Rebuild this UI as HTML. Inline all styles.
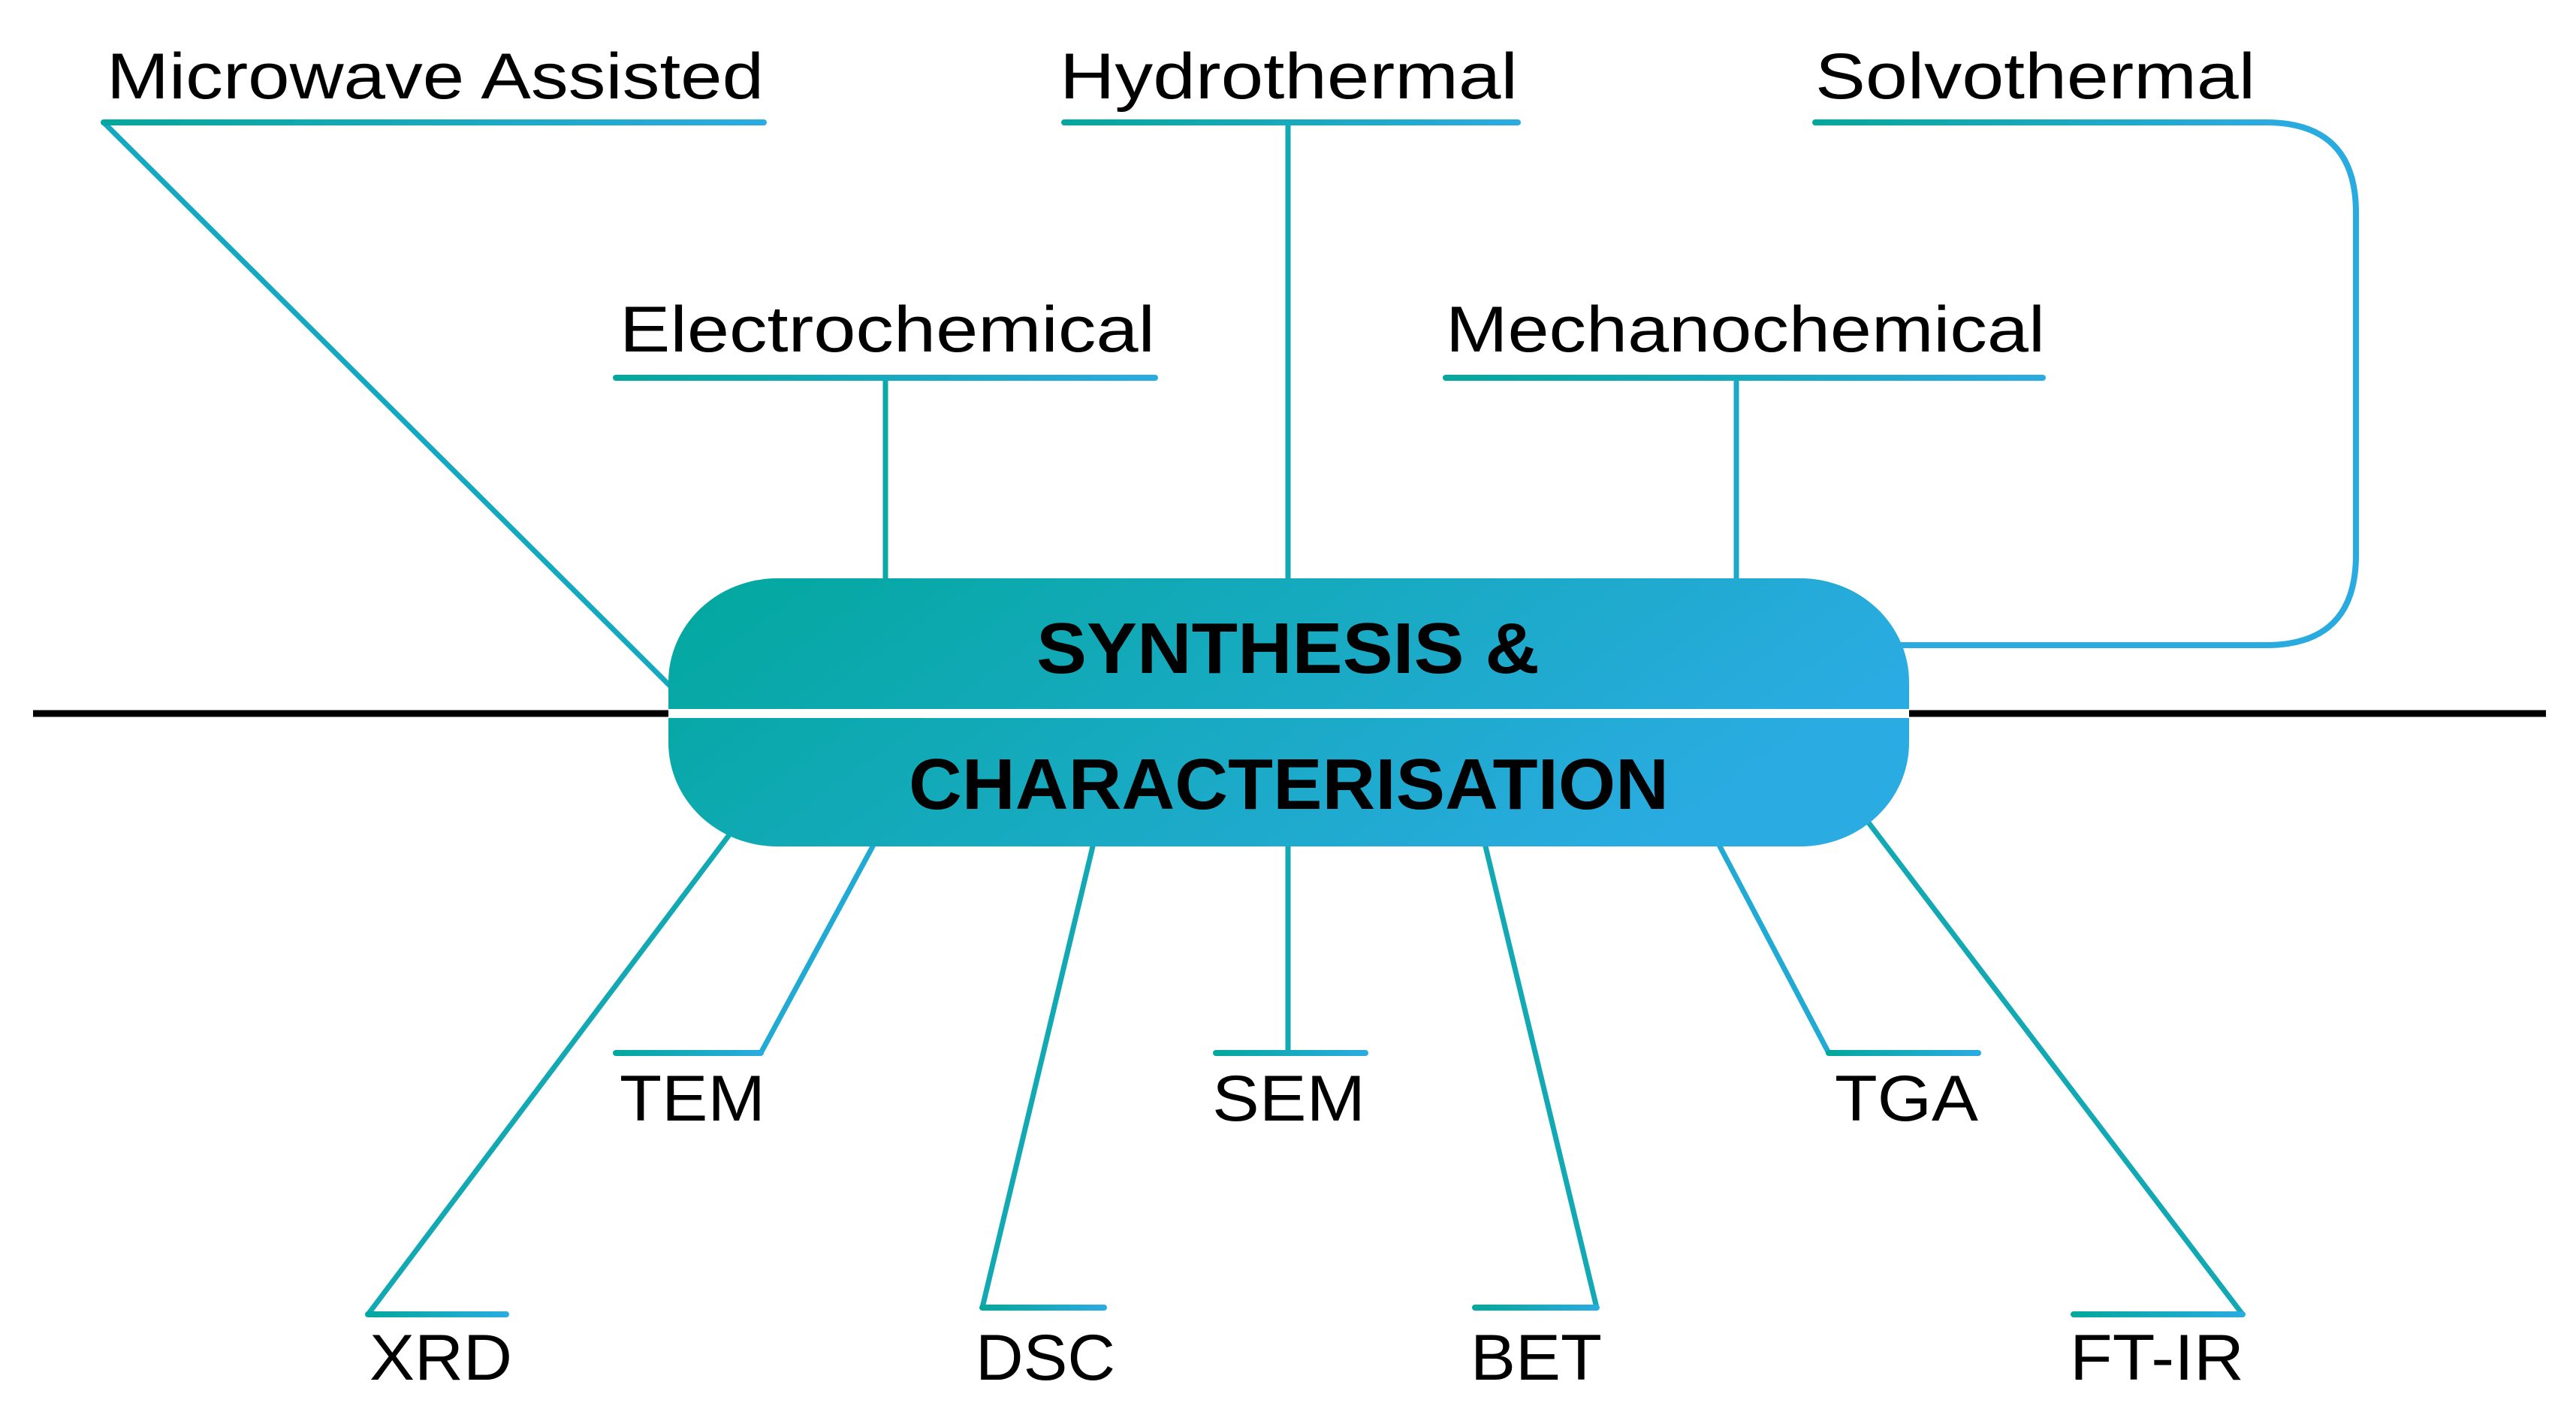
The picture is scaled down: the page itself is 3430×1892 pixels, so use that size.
<!DOCTYPE html>
<html><head><meta charset="utf-8"><style>
html,body{margin:0;padding:0;background:#fff;}
svg{display:block;}
text{font-family:"Liberation Sans",sans-serif;fill:#000;}
</style></head><body>
<svg width="3430" height="1892" viewBox="0 0 3430 1892" xmlns="http://www.w3.org/2000/svg">
<defs>
<linearGradient id="pg" x1="0" y1="0" x2="1" y2="0.3">
<stop offset="0" stop-color="#02A89D"/><stop offset="1" stop-color="#2AABE1"/></linearGradient>
<linearGradient id="ug" x1="0" y1="0" x2="1" y2="0">
<stop offset="0" stop-color="#02A89D"/><stop offset="1" stop-color="#2AABE1"/></linearGradient>
</defs>
<line x1="44" y1="950" x2="3390" y2="950" stroke="#000" stroke-width="9"/>

<g fill="none" stroke-width="7" stroke-linecap="round">
<line x1="138" y1="163" x2="895" y2="916" stroke="#14A9C0"/>
<line x1="1715" y1="163" x2="1715" y2="775" stroke="#12A9B5"/>
<line x1="1179" y1="503" x2="1179" y2="775" stroke="#0BA9A8"/>
<line x1="2312" y1="503" x2="2312" y2="775" stroke="#1AAAC8"/>
<path d="M3017 163 Q3137 163 3137 283 L3137 739 Q3137 859 3017 859 L2527 859" stroke="#29ABE0" stroke-width="8"/>
<path d="M2527 859 L2700 859" stroke="url(#ug)" stroke-width="8"/>
</g>
<g stroke="url(#ug)" stroke-width="8" stroke-linecap="round">
<line x1="138" y1="163" x2="1017" y2="163.01"/>
<line x1="1417" y1="163" x2="2021" y2="163.01"/>
<line x1="2417" y1="163" x2="3020" y2="163.01"/>
<line x1="820" y1="503" x2="1538" y2="503.01"/>
<line x1="1925" y1="503" x2="2720" y2="503.01"/>
</g>

<g fill="none" stroke-width="7" stroke-linecap="round">
<line x1="976" y1="1105" x2="490" y2="1750" stroke="#12A9B5"/>
<line x1="1162" y1="1127" x2="1013" y2="1402" stroke="#20AAD4"/>
<line x1="1455" y1="1127" x2="1308" y2="1741" stroke="#12A9B5"/>
<line x1="1715" y1="1127" x2="1715" y2="1402" stroke="#12A9B5"/>
<line x1="1978" y1="1127" x2="2126" y2="1741" stroke="#12A9B5"/>
<line x1="2290" y1="1127" x2="2435" y2="1402" stroke="#20AAD4"/>
<line x1="2487" y1="1094" x2="2986" y2="1750" stroke="#12A9B5"/>
</g>
<g stroke="url(#ug)" stroke-width="8" stroke-linecap="round">
<line x1="490" y1="1750" x2="674" y2="1750.01"/>
<line x1="820" y1="1402" x2="1013" y2="1402.01"/>
<line x1="1308" y1="1741" x2="1470" y2="1741.01"/>
<line x1="1619" y1="1402" x2="1818" y2="1402.01"/>
<line x1="1964" y1="1741" x2="2126" y2="1741.01"/>
<line x1="2435" y1="1402" x2="2634" y2="1402.01"/>
<line x1="2761" y1="1750" x2="2986" y2="1750.01"/>
</g>

<rect x="890" y="770" width="1652" height="357" rx="145" ry="138" fill="url(#pg)"/>
<rect x="890" y="944" width="1652" height="12" fill="#fff"/>
<text x="1380" y="896" font-size="96" font-weight="bold" textLength="670" lengthAdjust="spacingAndGlyphs">SYNTHESIS &amp;</text>
<text x="1210" y="1077" font-size="96" font-weight="bold" textLength="1012" lengthAdjust="spacingAndGlyphs">CHARACTERISATION</text>

<g font-size="86">
<text x="142" y="131" textLength="875" lengthAdjust="spacingAndGlyphs">Microwave Assisted</text>
<text x="1411" y="131" textLength="610" lengthAdjust="spacingAndGlyphs">Hydrothermal</text>
<text x="2417" y="131" textLength="586" lengthAdjust="spacingAndGlyphs">Solvothermal</text>
<text x="825" y="468" textLength="713" lengthAdjust="spacingAndGlyphs">Electrochemical</text>
<text x="1925" y="468" textLength="798" lengthAdjust="spacingAndGlyphs">Mechanochemical</text>
<text x="825" y="1492" textLength="194" lengthAdjust="spacingAndGlyphs">TEM</text>
<text x="1614" y="1492" textLength="204" lengthAdjust="spacingAndGlyphs">SEM</text>
<text x="2443" y="1492" textLength="191" lengthAdjust="spacingAndGlyphs">TGA</text>
<text x="492" y="1837" textLength="190" lengthAdjust="spacingAndGlyphs">XRD</text>
<text x="1299" y="1837" textLength="186" lengthAdjust="spacingAndGlyphs">DSC</text>
<text x="1958" y="1837" textLength="175" lengthAdjust="spacingAndGlyphs">BET</text>
<text x="2756" y="1837" textLength="232" lengthAdjust="spacingAndGlyphs">FT-IR</text>
</g>
</svg>
</body></html>
